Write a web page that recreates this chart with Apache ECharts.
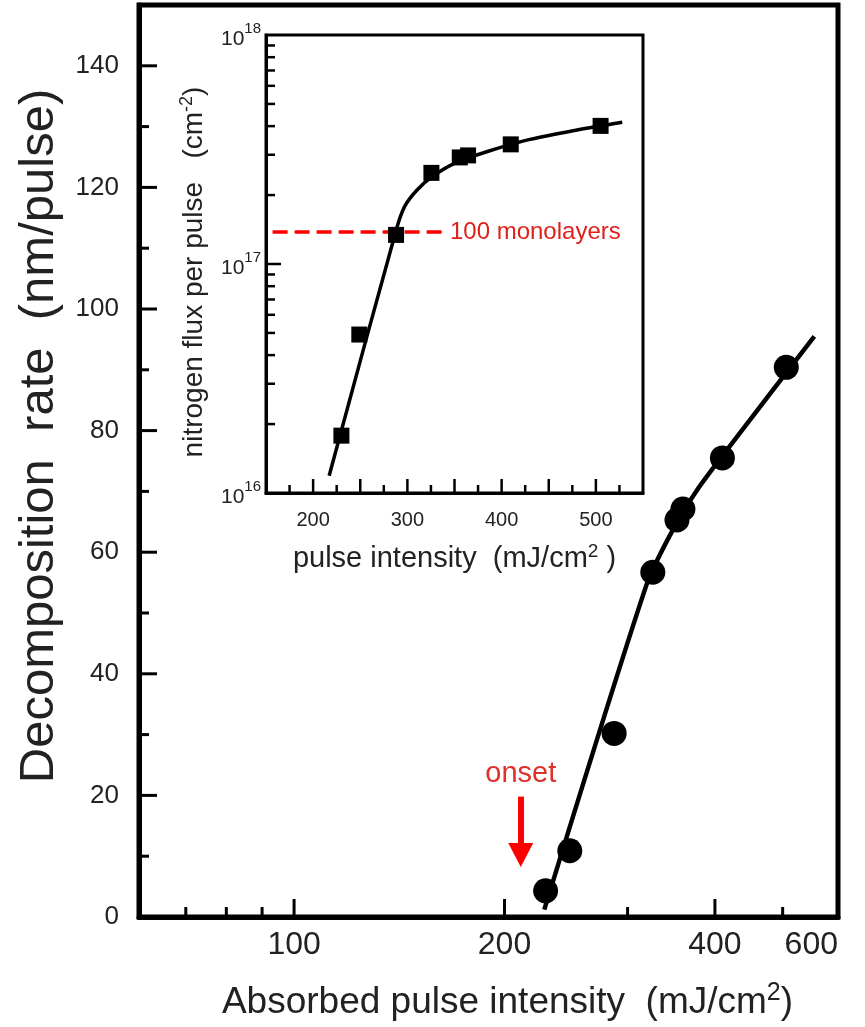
<!DOCTYPE html>
<html><head><meta charset="utf-8">
<script src="https://cdn.jsdelivr.net/npm/echarts@6/dist/echarts.min.js"></script>
<style>html,body{margin:0;padding:0;background:#fff}#c{width:865px;height:1027px}</style>
</head><body><div id="c"></div>
<script>
// ---- main chart data ----
const mainX = [229, 248, 287, 326, 353, 360, 410, 506];
const mainY = [4.3, 10.9, 30.2, 56.7, 65.3, 67.1, 75.5, 90.4];
const mainFitX = [228, 319, 345, 376, 429, 555];
const mainFitY = [1.2, 54.5, 62.8, 70.0, 78.8, 95.5];
const mainXLabels = [100, 200, 400, 600];
const mainXMajorTicks = [100, 200, 400];
const mainXMinorTicks = [70, 80, 90, 300, 500];
const mainYLabels = [0, 20, 40, 60, 80, 100, 120, 140];
const mainYMajorTicks = [20, 40, 60, 80, 100, 120, 140];
const mainYMinorTicks = [10, 30, 50, 70, 90, 110, 130];
const onsetX = 211, onsetTop = 19.8, onsetTip = 10.2;

// ---- inset data ----
const insetX = [230, 249, 288, 325.5, 355.6, 364.4, 409.7, 505];
const insetY = [1.78e16, 4.92e16, 1.34e17, 2.50e17, 2.92e17, 2.98e17, 3.33e17, 4.01e17];
const insetFitX = [217, 288, 297, 310, 326, 350, 385, 430, 480, 528];
const insetFitY = [1.19e16, 1.40e17, 1.78e17, 2.10e17, 2.40e17, 2.75e17, 3.10e17, 3.50e17, 3.85e17, 4.16e17];
const insetXLabels = [200, 300, 400, 500];
const insetXMajorTicks = [200, 250, 300, 350, 400, 450, 500];
const insetXMinorTicks = [175, 225, 275, 325, 375, 425, 475, 525];
const insetYMajorTicks = [1e17];
const insetYMinorTicks = [2e16,3e16,4e16,5e16,6e16,7e16,8e16,9e16,2e17,3e17,4e17,5e17,6e17,7e17,8e17,9e17];
const monolayerLevel = 1.38e17;
const monolayerX = [157, 342];

// axis ranges
const MAIN_X = [60, 600], MAIN_Y = [0, 150];
const INSET_X = [150, 550], INSET_Y = [1e16, 1e18];

const FONT = '"Liberation Sans", Arial, sans-serif';
const zip = (a, b) => a.map((v, i) => [v, b[i]]);

const chart = echarts.init(document.getElementById('c'), null, {renderer: 'canvas'});

// inward axis ticks drawn through the axes' own scales (api.coord)
function tickSeries(axisIdx, data, dim, len, width) {
  return {
    type: 'custom', xAxisIndex: axisIdx, yAxisIndex: axisIdx, silent: true, clip: false, z: 8,
    data: data,
    renderItem: (params, api) => {
      const p = api.coord([api.value(0), api.value(1)]);
      const shape = dim === 'x'
        ? {x1: p[0], y1: p[1], x2: p[0], y2: p[1] - len}
        : {x1: p[0], y1: p[1], x2: p[0] + len, y2: p[1]};
      return {type: 'line', shape: shape, style: {stroke: '#000', lineWidth: width}};
    }
  };
}

const option = {
  backgroundColor: '#fff',
  animation: false,
  tooltip: {show: false},
  grid: [
    {left: 139, right: 27, top: 5, bottom: 110, show: true, borderColor: '#000', borderWidth: 5},
    {left: 266, right: 222, top: 35, bottom: 534, show: true, borderColor: '#000', borderWidth: 3}
  ],
  xAxis: [
    {type: 'log', logBase: 10, min: MAIN_X[0], max: MAIN_X[1], gridIndex: 0, position: 'bottom',
      axisLine: {show: true, onZero: false, lineStyle: {color: '#000', width: 5}},
      axisTick: {show: false}, splitLine: {show: false}, minorTick: {show: false},
      axisLabel: {show: true, customValues: mainXLabels, alignMaxLabel: 'right', fontFamily: FONT, fontSize: 32, color: '#222', margin: 12},
      name: '{a|Absorbed pulse intensity  (mJ/cm}{s|2}{a|)}', nameLocation: 'middle', nameGap: 64,
      nameTextStyle: {padding: [0, 0, 0, 38], rich: {a: {fontFamily: FONT, fontSize: 37, color: '#222'}, s: {fontFamily: FONT, fontSize: 25, color: '#222', padding: [0, 0, 18, 0]}}}
    },
    {type: 'value', min: INSET_X[0], max: INSET_X[1], gridIndex: 1, position: 'bottom',
      axisLine: {show: true, onZero: false, lineStyle: {color: '#000', width: 3}},
      axisTick: {show: false}, splitLine: {show: false},
      axisLabel: {show: true, customValues: insetXLabels, fontFamily: FONT, fontSize: 20, color: '#222', margin: 17},
      name: '{a|pulse intensity  (mJ/cm}{s|2}{a| )}', nameLocation: 'middle', nameGap: 49,
      nameTextStyle: {rich: {a: {fontFamily: FONT, fontSize: 29, color: '#222'}, s: {fontFamily: FONT, fontSize: 19, color: '#222', padding: [0, 0, 15, 0]}}}
    }
  ],
  yAxis: [
    {type: 'value', min: MAIN_Y[0], max: MAIN_Y[1], gridIndex: 0, position: 'left',
      axisLine: {show: true, onZero: false, lineStyle: {color: '#000', width: 5}},
      axisTick: {show: false}, splitLine: {show: false},
      axisLabel: {show: true, customValues: mainYLabels, fontFamily: FONT, fontSize: 26, color: '#222', margin: 20},
      name: 'Decomposition  rate  (nm/pulse)', nameLocation: 'middle', nameGap: 75, nameRotate: 90,
      nameTextStyle: {fontFamily: FONT, fontSize: 49, color: '#222', padding: [0, 0, 0, 50]}
    },
    {type: 'log', logBase: 10, min: INSET_Y[0], max: INSET_Y[1], gridIndex: 1, position: 'left',
      axisLine: {show: true, onZero: false, lineStyle: {color: '#000', width: 3}},
      axisTick: {show: false}, splitLine: {show: false}, minorTick: {show: false},
      axisLabel: {show: true, margin: 5,
        formatter: v => '{b|10}{s|' + Math.round(Math.log10(v)) + '}',
        rich: {b: {fontFamily: FONT, fontSize: 21, color: '#222', padding: [8, 0, 0, 0]}, s: {fontFamily: FONT, fontSize: 15, color: '#222', padding: [0, 0, 13, 0]}}},
      name: '{a|nitrogen flux per pulse   (cm}{s|-2}{a|)}', nameLocation: 'middle', nameGap: 55, nameRotate: 90,
      nameTextStyle: {padding: [0, 16, 0, 0], rich: {a: {fontFamily: FONT, fontSize: 28, color: '#222'}, s: {fontFamily: FONT, fontSize: 18, color: '#222', padding: [0, 0, 15, 0]}}}
    }
  ],
  series: [
    {type: 'line', xAxisIndex: 0, yAxisIndex: 0, data: zip(mainFitX, mainFitY), smooth: 0.25,
      showSymbol: false, symbol: 'none', lineStyle: {color: '#000', width: 4.5}, z: 2,
      markLine: {silent: true, symbol: ['none', 'triangle'], symbolSize: [25, 24],
        lineStyle: {color: '#ff0000', width: 6, type: 'solid'},
        label: {show: true, position: 'start', formatter: 'onset', color: '#e0302a', fontFamily: FONT, fontSize: 29, distance: 8},
        data: [[{coord: [onsetX, onsetTop]}, {coord: [onsetX, onsetTip]}]]}
    },
    {type: 'scatter', xAxisIndex: 0, yAxisIndex: 0, data: zip(mainX, mainY), symbol: 'circle', symbolSize: 25,
      itemStyle: {color: '#000', opacity: 1}, z: 3},
    {type: 'line', xAxisIndex: 1, yAxisIndex: 1, data: zip(insetFitX, insetFitY), smooth: 0.3,
      showSymbol: false, symbol: 'none', lineStyle: {color: '#000', width: 3.5}, z: 6},
    {type: 'scatter', xAxisIndex: 1, yAxisIndex: 1, data: zip(insetX, insetY), symbol: 'rect', symbolSize: 16,
      itemStyle: {color: '#000', opacity: 1}, z: 7},
    {type: 'line', xAxisIndex: 1, yAxisIndex: 1, z: 6, showSymbol: false, symbol: 'none',
      lineStyle: {color: '#ff0000', width: 3.5, type: [15, 7]},
      endLabel: {show: true, formatter: '100 monolayers', distance: 3, color: '#e0201b', fontFamily: FONT, fontSize: 24},
      data: zip(monolayerX, [monolayerLevel, monolayerLevel])},
    // ticks
    tickSeries(0, mainXMajorTicks.map(v => [v, MAIN_Y[0]]), 'x', 18, 3),
    tickSeries(0, mainXMinorTicks.map(v => [v, MAIN_Y[0]]), 'x', 10, 3),
    tickSeries(0, mainYMajorTicks.map(v => [MAIN_X[0], v]), 'y', 18, 3),
    tickSeries(0, mainYMinorTicks.map(v => [MAIN_X[0], v]), 'y', 10, 3),
    tickSeries(1, insetXMajorTicks.map(v => [v, INSET_Y[0]]), 'x', 14, 2.5),
    tickSeries(1, insetXMinorTicks.map(v => [v, INSET_Y[0]]), 'x', 8, 2.5),
    tickSeries(1, insetYMajorTicks.map(v => [INSET_X[0], v]), 'y', 15, 2.5),
    tickSeries(1, insetYMinorTicks.map(v => [INSET_X[0], v]), 'y', 9, 2.5)
  ]
};
chart.setOption(option);
</script></body></html>
